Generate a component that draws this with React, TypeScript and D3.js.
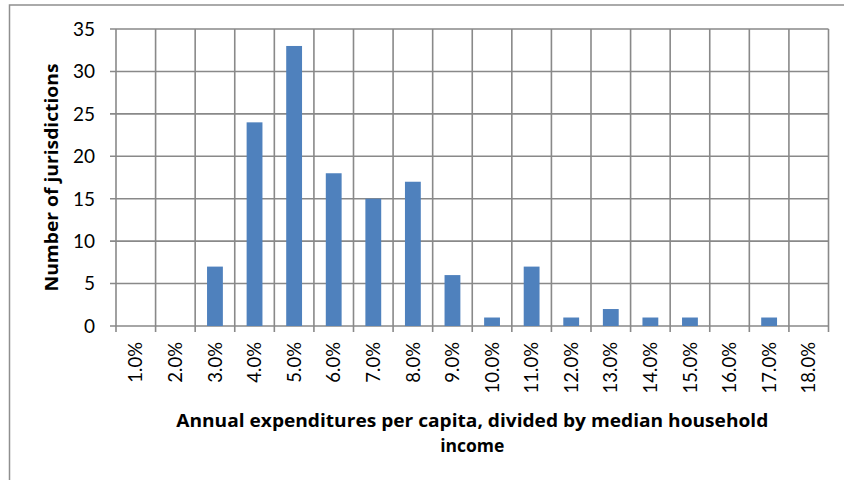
import React from "react";
import * as d3 from "d3";

const categories = ["1.0%","2.0%","3.0%","4.0%","5.0%","6.0%","7.0%","8.0%","9.0%","10.0%","11.0%","12.0%","13.0%","14.0%","15.0%","16.0%","17.0%","18.0%"];
const counts = [0,0,7,24,33,18,15,17,6,1,7,1,2,1,1,0,1,0];
const yTicks = [0,5,10,15,20,25,30,35];

const W = 844, H = 480;
const left = 116, right = 828.5, top = 29, bottom = 326;
const FONT = "Lato, 'Open Sans', sans-serif";
const TFONT = "'Open Sans', Lato, sans-serif";
const GRID = "#898989";

export default function App() {
  const x = d3.scaleBand<string>().domain(categories).range([left, right]).paddingInner(0).paddingOuter(0);
  const y = d3.scaleLinear().domain([0, 35]).range([bottom, top]);
  const bw = x.bandwidth() / 2.5;
  return (
    <svg width={W} height={H} style={{ position: "absolute", left: 0, top: 0, background: "#fff" }}>
      <rect x={9.5} y={5} width={W} height={H} fill="#fff" stroke="#8f8f8f" strokeWidth={1.5} />
      {yTicks.map((t) => (
        <g key={t}>
          <line x1={left - 6} x2={right} y1={y(t)} y2={y(t)} stroke={GRID} strokeWidth={1.6} />
          <text x={left - 21} y={y(t)} dy="0.36em" textAnchor="end" fontFamily={FONT} fontSize={19} fill="#000">{t}</text>
        </g>
      ))}
      {d3.range(categories.length + 1).map((i) => {
        const xx = left + i * x.step();
        return <line key={i} x1={xx} x2={xx} y1={top} y2={bottom + 6} stroke={GRID} strokeWidth={1.6} />;
      })}
      {categories.map((c, i) => (
        counts[i] > 0 ? (
          <rect key={c} x={(x(c) as number) + (x.bandwidth() - bw) / 2} y={y(counts[i])} width={bw} height={y(0) - y(counts[i])} fill="#4F81BD" />
        ) : null
      ))}
      {categories.map((c) => {
        const cx = (x(c) as number) + x.bandwidth() / 2;
        return (
          <text key={c} transform={`translate(${cx},${bottom + 16}) rotate(-90)`} dy="0.36em" textAnchor="end" fontFamily={FONT} fontSize={18.5} fill="#000">{c}</text>
        );
      })}
      <text x={(left + right) / 2} y={427} textAnchor="middle" fontFamily={TFONT} fontSize={17.5} fontWeight="bold" fill="#000" textLength={592} lengthAdjust="spacingAndGlyphs">Annual expenditures per capita, divided by median household</text>
      <text x={(left + right) / 2} y={452} textAnchor="middle" fontFamily={TFONT} fontSize={17.5} fontWeight="bold" fill="#000">income</text>
      <text transform={`translate(58,${(top + bottom) / 2}) rotate(-90)`} textAnchor="middle" fontFamily={TFONT} fontSize={17.5} fontWeight="bold" fill="#000" textLength={228} lengthAdjust="spacingAndGlyphs">Number of jurisdictions</text>
    </svg>
  );
}
